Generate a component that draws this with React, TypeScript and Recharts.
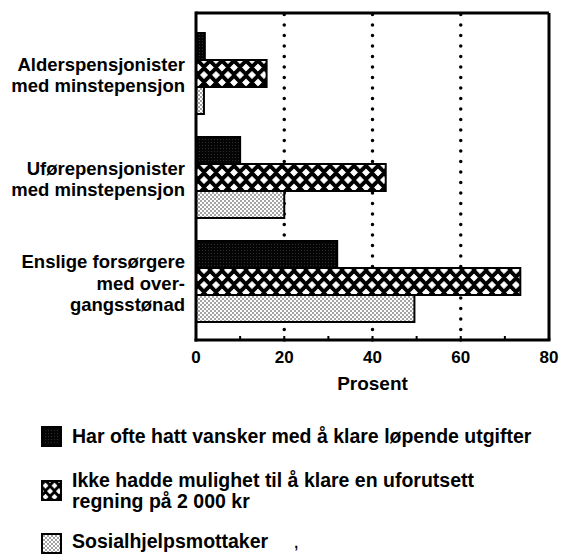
import React from 'react';
import { BarChart, Bar, XAxis, YAxis, ReferenceLine, CartesianGrid } from 'recharts';

const categories = [
  'Alderspensjonister med minstepensjon',
  'Uførepensjonister med minstepensjon',
  'Enslige forsørgere med overgangsstønad',
];
const categoryLines = [
  ['Alderspensjonister', 'med minstepensjon'],
  ['Uførepensjonister', 'med minstepensjon'],
  ['Enslige forsørgere', 'med over-', 'gangsstønad'],
];
const hardExpenses = [2, 10, 32];
const unexpectedBill = [16, 43, 73.5];
const socialAssistance = [1.8, 20, 49.5];

const seriesKeys = ['hard', 'bill', 'social'];
const seriesNames = [
  'Har ofte hatt vansker med å klare løpende utgifter',
  'Ikke hadde mulighet til å klare en uforutsett regning på 2 000 kr',
  'Sosialhjelpsmottaker',
];
const legendLines = [
  ['Har ofte hatt vansker med å klare løpende utgifter'],
  ['Ikke hadde mulighet til å klare en uforutsett', 'regning på 2 000 kr'],
  ['Sosialhjelpsmottaker'],
];
const xTicks = [0, 10, 20, 30, 40, 50, 60, 70, 80];
const xTickLabels = ['0', '', '20', '', '40', '', '60', '', '80'];
const gridValues = [20, 40, 60];
const xLabel = 'Prosent';

const data = categories.map((name, i) => ({
  name,
  hard: hardExpenses[i],
  bill: unexpectedBill[i],
  social: socialAssistance[i],
}));

const FONT = '"Liberation Sans", Arial, Helvetica, sans-serif';
const patternIds = ['pDark', 'pCross', 'pDots'];

const YTick = (props: any) => {
  const { x, y, payload } = props;
  const idx = categories.indexOf(payload.value);
  const lines = categoryLines[idx] || [String(payload.value)];
  const lh = 21.5;
  const start = -((lines.length - 1) * lh) / 2 + 1;
  return (
    <text x={x - 11} y={y} textAnchor="end" fontSize={18.5} fontWeight={700} fill="#000" fontFamily={FONT}>
      {lines.map((l, i) => (
        <tspan key={i} x={x - 11} y={y + start + i * lh} dy="0.36em">
          {l}
        </tspan>
      ))}
    </text>
  );
};

const XTick = (props: any) => {
  const { x, y, payload } = props;
  const label = xTickLabels[xTicks.indexOf(payload.value)];
  return (
    <g>
      <line x1={x} x2={x} y1={y} y2={y - 4} stroke="#000" strokeWidth={2} />
      {label ? (
        <text x={x} y={y + 17} dy="0.36em" textAnchor="middle" fontSize={17} fontWeight={700} fill="#000" fontFamily={FONT}>
          {label}
        </text>
      ) : null}
    </g>
  );
};

const Patterns = ({ prefix = '', scale = 1 }: { prefix?: string; scale?: number }) => (
  <defs>
    <pattern id={prefix + 'pDark'} patternUnits="userSpaceOnUse" width={3} height={3}>
      <rect width={3} height={3} fill="#050505" />
      <rect x={1} y={1} width={1} height={1} fill="#2e2e2e" />
    </pattern>
    <pattern id={prefix + 'pCross'} patternUnits="userSpaceOnUse" width={12 * scale} height={15 * scale}>
      <rect width={12 * scale} height={15 * scale} fill="#000" />
      {[
        [0, 0],
        [12, 0],
        [6, 7.5],
        [0, 15],
        [12, 15],
      ].map(([cx, cy], i) => (
        <path
          key={i}
          d={`M${cx * scale} ${(cy - 3.6) * scale} L${(cx + 3.6) * scale} ${cy * scale} L${cx * scale} ${(cy + 3.6) * scale} L${(cx - 3.6) * scale} ${cy * scale} Z`}
          fill="#fff"
          stroke="#fff"
          strokeWidth={0.8 * scale}
          strokeLinejoin="round"
        />
      ))}
    </pattern>
    <pattern id={prefix + 'pDots'} patternUnits="userSpaceOnUse" width={4} height={4}>
      <rect width={4} height={4} fill="#fff" />
      <circle cx={1} cy={1} r={0.7} fill="#000" />
      <circle cx={3} cy={3} r={0.7} fill="#000" />
    </pattern>
  </defs>
);

export default function App() {
  return (
    <div
      style={{
        position: 'absolute',
        left: 0,
        top: 0,
        width: 562,
        height: 555,
        background: '#fff',
        fontFamily: FONT,
        overflow: 'hidden',
      }}
    >
      <BarChart
        width={562}
        height={400}
        data={data}
        layout="vertical"
        margin={{ top: 13, right: 13, left: 0, bottom: 30 }}
        barGap={0}
        barCategoryGap={11}
      >
        <Patterns />
        <CartesianGrid
          stroke="#000"
          strokeWidth={3}
          horizontalCoordinatesGenerator={(p: any) => [p.offset.top]}
          verticalCoordinatesGenerator={(p: any) => [p.offset.left + p.offset.width]}
        />
        <XAxis
          type="number"
          domain={[0, 80]}
          ticks={xTicks}
          interval={0}
          height={30}
          tickSize={0}
          tickMargin={0}
          tick={<XTick />}
          tickLine={false}
          axisLine={{ stroke: '#000', strokeWidth: 3, strokeLinecap: 'square' }}
          label={{ value: xLabel, position: 'bottom', offset: 7, fontSize: 19, fontWeight: 700, fill: '#000', fontFamily: FONT }}
        />
        <YAxis
          type="category"
          dataKey="name"
          width={196}
          padding={{ top: 9, bottom: 6 }}
          tickSize={0}
          tickMargin={0}
          tick={<YTick />}
          tickLine={false}
          interval={0}
          axisLine={{ stroke: '#000', strokeWidth: 3, strokeLinecap: 'square' }}
        />
        {gridValues.map((v) => (
          <ReferenceLine
            key={v}
            x={v}
            stroke="#000"
            strokeWidth={3.5}
            strokeDasharray="0 10.5"
            strokeLinecap="round"
            {...({ zIndex: -10 } as any)}
          />
        ))}
        {seriesKeys.map((k, i) => (
          <Bar
            key={k}
            dataKey={k}
            name={seriesNames[i]}
            fill={`url(#${patternIds[i]})`}
            stroke="#000"
            strokeWidth={2}
            isAnimationActive={false}
          />
        ))}
      </BarChart>

      {legendLines.map((lines, i) => {
        const tops = [426, 469.5, 531];
        const swTops = [426, 480, 533];
        return (
          <div key={i}>
            <svg style={{ position: 'absolute', left: 41, top: swTops[i] }} width={22} height={22}>
              <Patterns prefix={'lg' + i} scale={0.75} />
              <rect x={1} y={1} width={19} height={19} fill={`url(#lg${i}${patternIds[i]})`} stroke="#000" strokeWidth={2} />
            </svg>
            <div
              style={{
                position: 'absolute',
                left: 72,
                top: tops[i],
                fontSize: 19.5,
                fontWeight: 700,
                lineHeight: '21px',
                whiteSpace: 'nowrap',
                color: '#000',
              }}
            >
              {lines.map((l, j) => (
                <div key={j}>
                  {l}
                  {i === 2 && j === 0 ? <span style={{ marginLeft: 26, fontSize: 14 }}>,</span> : null}
                </div>
              ))}
            </div>
          </div>
        );
      })}
    </div>
  );
}
